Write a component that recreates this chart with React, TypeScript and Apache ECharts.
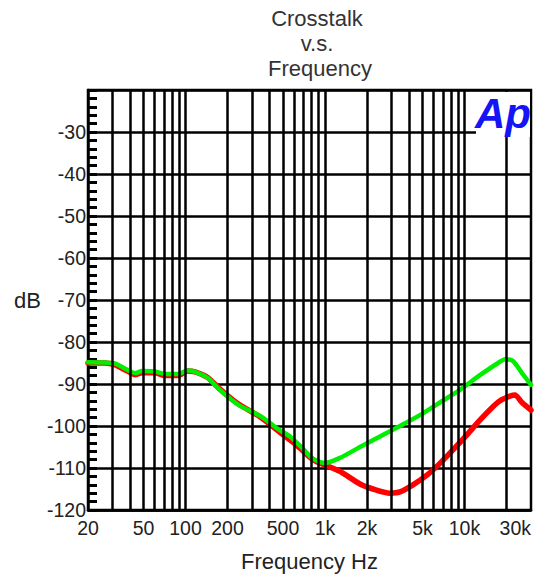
import React, { useEffect, useRef } from 'react';
import * as echarts from 'echarts';

// Axis tick labels
const xTickValues = [20, 50, 100, 200, 500, 1000, 2000, 5000, 10000, 30000];
const yTickValues = [-120, -110, -100, -90, -80, -70, -60, -50, -40, -30];
// Vertical grid lines (Hz)
const gridFreqs = [
  30, 40, 50, 60, 70, 80, 90, 100,
  200, 300, 400, 500, 600, 700, 800, 900, 1000,
  2000, 3000, 4000, 5000, 6000, 7000, 8000, 9000, 10000,
  20000,
];

// Green channel
const greenFreq = [
  20, 26.5, 31, 38.7, 43.5, 48.8, 60.4, 71.3, 88.4, 104, 117, 145, 171, 215, 246,
  342, 475, 561, 662, 820, 1000, 1281, 1783, 2479, 3448, 4797, 6672, 9280, 12906,
  17950, 19500, 22270, 25850, 30000,
];
const greenDb = [
  -84.8, -84.9, -85.1, -86.7, -87.4, -86.9, -87.0, -87.6, -87.6, -86.8, -87.1, -88.6, -91.0, -93.8, -95.2,
  -97.6, -101.0, -102.5, -104.7, -107.8, -108.8, -107.6, -105.0, -102.5, -100.0, -97.4, -94.4, -91.4, -87.9,
  -84.7, -84.1, -84.5, -87.4, -90.2,
];

// Red channel
const redFreq = [
  20, 26.5, 31, 38.7, 43.5, 48.8, 60.4, 71.3, 88.4, 104, 117, 145, 171, 215, 246,
  342, 475, 561, 662, 820, 1000, 1281, 1783, 2208, 2924, 3448, 4275, 5383, 6672, 8271,
  10420, 12906, 16000, 17950, 21200, 23000, 25850, 30000,
];
const redDb = [
  -85.0, -85.0, -85.4, -87.0, -87.8, -87.3, -87.3, -88.0, -88.0, -86.9, -87.1, -88.5, -90.8, -93.6, -95.0,
  -97.8, -101.5, -103.3, -105.3, -108.0, -109.3, -110.8, -113.8, -115.0, -116.0, -115.7, -114.0, -111.7, -108.9, -105.7,
  -102.1, -98.6, -95.4, -94.0, -92.9, -92.6, -94.4, -96.2,
];

const FONT = '"Liberation Sans", Arial, sans-serif';

function fmtHz(v: number): string {
  const r = Math.round(v);
  return r >= 1000 ? `${Math.round(r / 1000)}k` : String(r);
}

export default function App() {
  const ref = useRef<HTMLDivElement>(null);
  useEffect(() => {
    const chart = echarts.init(ref.current!, null, { renderer: 'svg' });
    chart.setOption({
      animation: false,
      backgroundColor: '#ffffff',
      textStyle: { fontFamily: FONT },
      title: {
        text: 'Crosstalk\nv.s.\n Frequency',
        left: 312,
        top: 1,
        textAlign: 'center',
        textStyle: {
          fontFamily: FONT,
          fontSize: 22,
          fontWeight: 'normal',
          color: '#333333',
          lineHeight: 25,
        },
      },
      grid: {
        left: 88,
        right: 5,
        top: 90,
        bottom: 68,
        show: true,
        borderColor: '#000',
        borderWidth: 2.5,
        backgroundColor: '#fff',
      },
      xAxis: {
        type: 'log',
        logBase: 10,
        min: 20,
        max: 30000,
        name: 'Frequency Hz',
        nameLocation: 'middle',
        nameGap: 40,
        nameTextStyle: { fontFamily: FONT, fontSize: 22, color: '#222' },
        axisLine: { show: true, lineStyle: { color: '#000', width: 2.5 } },
        axisTick: { show: false },
        splitLine: { show: false },
        axisLabel: {
          customValues: xTickValues,
          formatter: (v: number) => fmtHz(v),
          fontFamily: FONT,
          fontSize: 19.5,
          color: '#222',
          margin: 8,
          alignMaxLabel: 'right',
        },
      },
      yAxis: {
        type: 'value',
        min: -120,
        max: -20,
        interval: 10,
        name: 'dB',
        nameLocation: 'middle',
        nameRotate: 0,
        nameGap: 47,
        nameTextStyle: {
          fontFamily: FONT,
          fontSize: 22,
          color: '#222',
          padding: [0, 0, 28, 0],
        },
        axisLine: { show: true, lineStyle: { color: '#000', width: 2.5 } },
        axisTick: { show: true, inside: true, length: 9, lineStyle: { color: '#000', width: 3 } },
        minorTick: { show: true, splitNumber: 5, length: 9, lineStyle: { color: '#000', width: 3 } },
        splitLine: { show: true, lineStyle: { color: '#000', width: 2.5 } },
        axisLabel: {
          formatter: (v: number) => (yTickValues.includes(v) ? String(v) : ''),
          fontFamily: FONT,
          fontSize: 19.5,
          color: '#222',
          margin: 2,
        },
      },
      series: [
        {
          name: 'grid',
          type: 'line',
          data: [],
          z: 1,
          silent: true,
          markLine: {
            silent: true,
            symbol: ['none', 'none'],
            label: { show: false },
            lineStyle: { color: '#000', width: 2.5, type: 'solid' },
            data: gridFreqs.map((f) => ({ xAxis: f })),
          },
        },
        {
          name: 'Red',
          type: 'line',
          z: 3,
          data: redFreq.map((f, i) => [f, redDb[i]]),
          showSymbol: false,
          smooth: 0.25,
          lineStyle: { color: '#ff0000', width: 5.5, join: 'round', cap: 'round' },
          itemStyle: { color: '#ff0000' },
        },
        {
          name: 'Green',
          type: 'line',
          z: 4,
          data: greenFreq.map((f, i) => [f, greenDb[i]]),
          showSymbol: false,
          smooth: 0.25,
          lineStyle: { color: '#00ee00', width: 4.5, join: 'round', cap: 'round' },
          itemStyle: { color: '#00ee00' },
        },
      ],
      graphic: [
        {
          type: 'rect',
          z: 100,
          shape: { x: 476, y: 92, width: 54, height: 45 },
          style: { fill: '#ffffff' },
        },
        {
          type: 'text',
          z: 101,
          x: 475,
          y: 92,
          style: {
            text: 'Ap',
            fill: '#1414f5',
            font: `italic bold 42px ${FONT}`,
          },
        },
      ],
    });
    return () => chart.dispose();
  }, []);
  return (
    <div
      ref={ref}
      style={{ position: 'fixed', left: 0, top: 0, width: 536, height: 578, background: '#fff' }}
    />
  );
}
